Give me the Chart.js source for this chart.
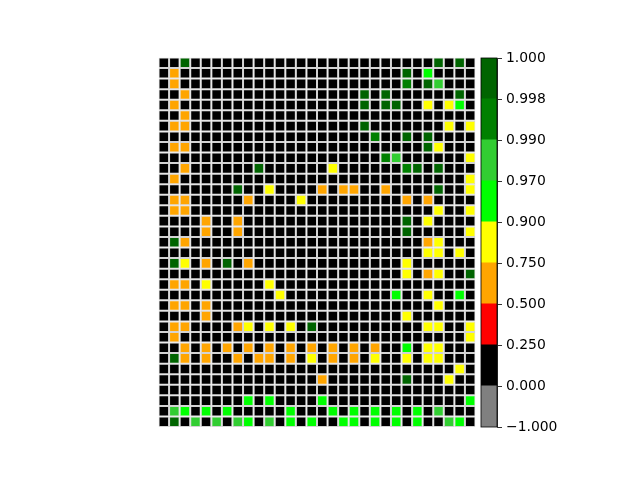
<!DOCTYPE html>
<html>
<head>
<meta charset="utf-8">
<script src="https://cdn.jsdelivr.net/npm/chart.js@4.4.0/dist/chart.umd.min.js"></script>
<style>
  body { margin: 0; background: #fff; }
  canvas { position: absolute; left: 0; top: 0; }
</style>
</head>
<body>
<canvas id="gridChart" width="640" height="480"></canvas>
<canvas id="barChart" width="640" height="480"></canvas>
<script>
// colour bands of the colorbar (bottom to top)
var boundaries = [-1, 0, 0.25, 0.5, 0.75, 0.9, 0.97, 0.99, 0.998, 1];
var bandColors = ['#808080', '#000000', '#ff0000', '#ffa500', '#ffff00', '#00ff00', '#32cd32', '#008000', '#006400'];

var O = 0.6, Y = 0.8, L = 0.93, M = 0.98, G = 0.995, D = 0.999;

// 35 rows (top to bottom) x 30 columns
var cells = [
  [0,0,D,0,0,0,0,0,0,0, 0,0,0,0,0,0,0,0,0,0, 0,0,0,0,0,0,D,0,D,0],
  [0,O,0,0,0,0,0,0,0,0, 0,0,0,0,0,0,0,0,0,0, 0,0,0,D,0,L,0,0,0,0],
  [0,O,0,0,0,0,0,0,0,0, 0,0,0,0,0,0,0,0,0,0, 0,0,0,G,0,D,M,0,0,0],
  [0,0,O,0,0,0,0,0,0,0, 0,0,0,0,0,0,0,0,0,D, 0,D,0,0,0,0,0,0,D,0],
  [0,O,0,0,0,0,0,0,0,0, 0,0,0,0,0,0,0,0,0,D, 0,D,D,0,0,Y,0,Y,L,0],
  [0,0,O,0,0,0,0,0,0,0, 0,0,0,0,0,0,0,0,0,0, 0,0,0,0,0,0,0,0,0,0],
  [0,O,O,0,0,0,0,0,0,0, 0,0,0,0,0,0,0,0,0,D, 0,0,0,0,0,0,0,Y,0,Y],
  [0,0,0,0,0,0,0,0,0,0, 0,0,0,0,0,0,0,0,0,0, G,0,0,D,0,D,0,0,0,0],
  [0,O,O,0,0,0,0,0,0,0, 0,0,0,0,0,0,0,0,0,0, 0,0,0,0,0,D,Y,0,0,0],
  [0,0,0,0,0,0,0,0,0,0, 0,0,0,0,0,0,0,0,0,0, 0,G,M,0,0,0,0,0,0,Y],
  [0,0,O,0,0,0,0,0,0,D, 0,0,0,0,0,0,Y,0,0,0, 0,0,0,G,D,0,D,0,0,0],
  [0,O,0,0,0,0,0,0,0,0, 0,0,0,0,0,0,0,0,0,0, 0,0,0,0,0,0,0,0,0,Y],
  [0,0,0,0,0,0,0,D,0,0, Y,0,0,0,0,O,0,O,O,0, 0,O,0,0,0,0,D,0,0,Y],
  [0,O,O,0,0,0,0,0,O,0, 0,0,0,Y,0,0,0,0,0,0, 0,0,0,O,0,O,0,0,0,0],
  [0,O,O,0,0,0,0,0,0,0, 0,0,0,0,0,0,0,0,0,0, 0,0,0,0,0,0,Y,0,0,Y],
  [0,0,0,0,O,0,0,O,0,0, 0,0,0,0,0,0,0,0,0,0, 0,0,0,D,0,Y,0,0,0,0],
  [0,0,0,0,O,0,0,O,0,0, 0,0,0,0,0,0,0,0,0,0, 0,0,0,D,0,0,0,0,0,Y],
  [0,D,O,0,0,0,0,0,0,0, 0,0,0,0,0,0,0,0,0,0, 0,0,0,0,0,O,Y,0,0,0],
  [0,0,0,0,0,0,0,0,0,0, 0,0,0,0,0,0,0,0,0,0, 0,0,0,0,0,Y,Y,0,Y,0],
  [0,D,Y,0,O,0,D,0,O,0, 0,0,0,0,0,0,0,0,0,0, 0,0,0,Y,0,0,0,0,0,0],
  [0,0,0,0,0,0,0,0,0,0, 0,0,0,0,0,0,0,0,0,0, 0,0,0,Y,0,O,Y,0,0,D],
  [0,O,O,0,Y,0,0,0,0,0, Y,0,0,0,0,0,0,0,0,0, 0,0,0,0,0,0,0,0,0,0],
  [0,0,0,0,0,0,0,0,0,0, 0,Y,0,0,0,0,0,0,0,0, 0,0,L,0,0,Y,0,0,L,0],
  [0,O,O,0,O,0,0,0,0,0, 0,0,0,0,0,0,0,0,0,0, 0,0,0,0,0,0,Y,0,0,0],
  [0,0,0,0,O,0,0,0,0,0, 0,0,0,0,0,0,0,0,0,0, 0,0,0,Y,0,0,0,0,0,0],
  [0,O,O,0,0,0,0,O,Y,0, Y,0,Y,0,D,0,0,0,0,0, 0,0,0,0,0,Y,Y,0,0,Y],
  [0,O,0,0,0,0,0,0,0,0, 0,0,0,0,0,0,0,0,0,0, 0,0,0,0,0,0,0,0,0,Y],
  [0,0,O,0,O,0,O,0,O,0, O,0,O,0,O,0,O,0,O,0, O,0,0,L,0,Y,Y,0,0,0],
  [0,D,O,0,O,0,0,O,0,O, O,0,O,0,Y,0,O,0,O,0, Y,0,0,Y,0,Y,Y,0,0,0],
  [0,0,0,0,0,0,0,0,0,0, 0,0,0,0,0,0,0,0,0,0, 0,0,0,0,0,0,0,0,Y,0],
  [0,0,0,0,0,0,0,0,0,0, 0,0,0,0,0,O,0,0,0,0, 0,0,0,D,0,0,0,Y,0,0],
  [0,0,0,0,0,0,0,0,0,0, 0,0,0,0,0,0,0,0,0,0, 0,0,0,0,0,0,0,0,0,0],
  [0,0,0,0,0,0,0,0,L,0, L,0,0,0,0,L,0,0,0,0, 0,0,0,0,0,0,0,0,0,L],
  [0,M,L,0,L,0,L,0,0,0, 0,0,L,0,0,0,L,0,L,0, L,0,L,0,L,0,M,0,0,0],
  [0,D,0,M,0,M,0,M,L,0, M,0,L,0,L,0,0,L,L,0, L,0,L,0,L,0,0,M,L,0]
];

var columns = cells[0].map(function (v, i) { return String(i); });
var tickLabels = boundaries.map(function (b) { return b.toFixed(3).replace('-', '\u2212'); });

function colorFor(v) {
  for (var i = 0; i < bandColors.length; i++) {
    if (v < boundaries[i + 1]) return bandColors[i];
  }
  return bandColors[bandColors.length - 1];
}

Chart.defaults.font.family = 'DejaVu Sans';
Chart.defaults.font.size = 13.9;
Chart.defaults.color = '#000';

// main grid: one stacked dataset per row, each cell one unit tall
var rowSets = cells.map(function (row, r) {
  return {
    label: 'row ' + r,
    data: row.map(function () { return 1; }),
    backgroundColor: row.map(colorFor),
    borderColor: '#d3d3d3',
    borderWidth: 1,
    borderSkipped: false,
    inflateAmount: 0
  };
});

new Chart(document.getElementById('gridChart'), {
  type: 'bar',
  data: { labels: columns, datasets: rowSets },
  options: {
    responsive: false,
    animation: false,
    events: [],
    layout: { padding: { left: 158.5, top: 57.5, right: 164.5, bottom: 53 } },
    datasets: { bar: { categoryPercentage: 1, barPercentage: 1 } },
    plugins: { legend: { display: false }, tooltip: { enabled: false } },
    scales: {
      x: { stacked: true, display: false },
      y: { stacked: true, display: false, reverse: true, min: 0, max: cells.length }
    }
  }
});

// colorbar: one stacked dataset per band, equal heights
var bandSets = bandColors.map(function (c, i) {
  return { label: 'band ' + i, data: [1], backgroundColor: c, borderWidth: 0, inflateAmount: 0.5 };
});

var outline = {
  id: 'outline',
  afterDatasetsDraw: function (chart) {
    var a = chart.chartArea, ctx = chart.ctx;
    ctx.save();
    ctx.strokeStyle = '#000';
    ctx.lineWidth = 0.8;
    ctx.strokeRect(a.left, a.top, a.right - a.left, a.bottom - a.top);
    ctx.restore();
  }
};

new Chart(document.getElementById('barChart'), {
  type: 'bar',
  data: { labels: [''], datasets: bandSets },
  plugins: [outline],
  options: {
    responsive: false,
    animation: false,
    events: [],
    layout: { padding: { left: 481, top: 58, right: 83, bottom: 53 } },
    datasets: { bar: { categoryPercentage: 1, barPercentage: 1 } },
    plugins: { legend: { display: false }, tooltip: { enabled: false } },
    scales: {
      x: { stacked: true, display: false },
      y: {
        stacked: true,
        position: 'right',
        min: 0,
        max: bandColors.length,
        afterFit: function (scale) { scale.width = 60; },
        border: { display: true, color: '#000', width: 0.8 },
        grid: { drawOnChartArea: false, drawTicks: true, tickLength: 5, color: '#000', lineWidth: 0.8 },
        ticks: {
          stepSize: 1,
          padding: 4,
          autoSkip: false,
          callback: function (value) { return tickLabels[value]; }
        }
      }
    }
  }
});
</script>
</body>
</html>
